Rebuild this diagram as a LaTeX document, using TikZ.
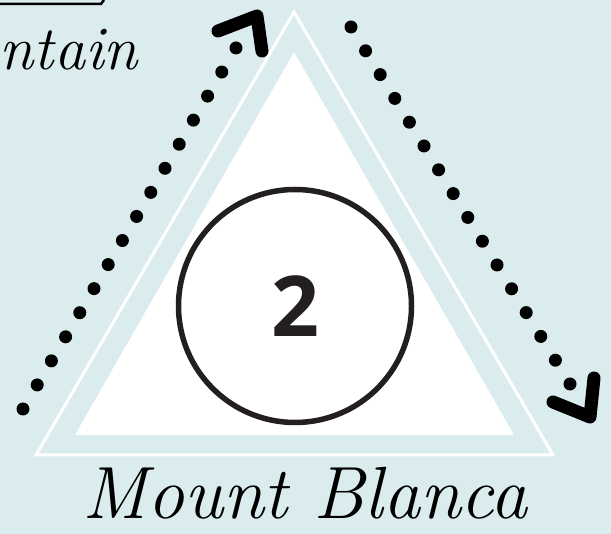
\documentclass[tikz,border=0pt]{standalone}
\usepackage{fontspec}
\newfontfamily\numfont{Open Sans}
\definecolor{sky}{RGB}{219,236,239}
\definecolor{ink}{RGB}{35,31,32}

\begin{document}
\begin{tikzpicture}[x=1pt, y=-1pt,
    chevron/.style={line width=13, line cap=round, line join=round},
    hand/.style={font=\fontsize{62}{62}\selectfont\itshape}]
  \fill[sky] (0,0) rectangle (611,534);
  \useasboundingbox (0,0) rectangle (611,534);
  \draw[line width=2.5] (0,4) -- (101,4) -- (104,0);
  \node[hand, anchor=base east, inner sep=0] (top) at (138,70) {ntain};
  \draw[white, line width=3] (294,12) -- (553,455) -- (36,455) -- cycle;
  \fill[white] (294,52) -- (514,435) -- (75,435) -- cycle;
  \node[circle, draw=ink, fill=white, line width=5.5, minimum size=233] (ring) at (295,306) {};
  \node[ink, font=\fontsize{84}{84}\selectfont\numfont\bfseries] (num) at (ring) {2};
  \foreach \i in {0, ..., 15} {
    \fill ({23+\i*14.2}, {409-\i*24.07}) circle (6.5);
    \fill ({351+\i*14.6}, {27+\i*23.8}) circle (6.5);
  }
  \draw[chevron] (218,31) -- (257,16) -- (262,51);
  \draw[chevron] (553,402) -- (590,417) -- (594,378);
  \node[hand, font=\fontsize{74}{74}\selectfont\itshape, anchor=base, inner sep=0] (name) at (305,519) {Mount Blanca};
\end{tikzpicture}
\end{document}
